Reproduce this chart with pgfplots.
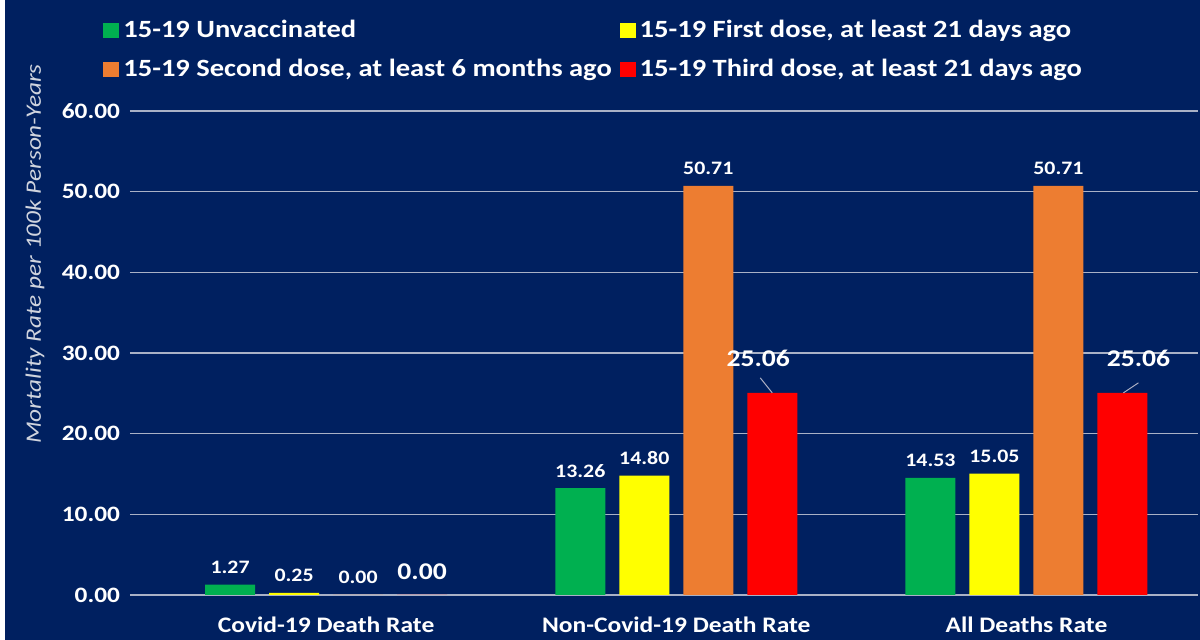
\documentclass[border=0pt]{standalone}
\usepackage{pgfplots}
\pgfplotsset{compat=1.18}
\usepackage{fontspec}
\setmainfont{Carlito}[FakeStretch=1.15]
\definecolor{bg}{HTML}{002060}
\definecolor{cgreen}{HTML}{00B050}
\definecolor{cyellow}{HTML}{FFFF00}
\definecolor{corange}{HTML}{ED7D31}
\definecolor{cred}{HTML}{FF0000}
\definecolor{gridc}{HTML}{A9B1C6}
\definecolor{ylab}{HTML}{D0D4DE}
\begin{document}
\begin{tikzpicture}
\useasboundingbox (0,0) rectangle (600pt,320pt);
\fill[bg] (0,0) rectangle (600pt,320pt);
\fill[white] (0,0) rectangle (2.5pt,320pt);
\begin{axis}[
  at={(65pt,22.5pt)}, anchor=south west,
  scale only axis, width=534pt, height=242pt,
  xmin=-0.56, xmax=2.49, ymin=0, ymax=60,
  ybar=7pt, bar width=25pt,
  clip=false,
  xtick={0,1,2},
  xticklabels={Covid-19 Death Rate, Non-Covid-19 Death Rate, All Deaths Rate},
  ytick={0,10,...,60},
  /pgf/number format/assume math mode=true,
  yticklabel style={/pgf/number format/fixed, /pgf/number format/fixed zerofill, /pgf/number format/precision=2,
     font=\bfseries\fontsize{11}{13}\selectfont, text=white, xshift=-1.5pt},
  xticklabel style={font=\bfseries\fontsize{11.1}{13}\selectfont, text=white, anchor=center, yshift=-15pt},
  ylabel={Mortality Rate per 100k Person-Years},
  ylabel style={at={(axis description cs:-0.089,0.7045)}, anchor=center,
     font=\itshape\fontsize{11}{13}\selectfont, text=ylab},
  axis line style={draw=none},
  tick style={draw=none},
  major tick length=0pt,
  ymajorgrids,
  major grid style={draw=gridc, line width=0.8pt},
  legend columns=2,
  legend cell align=left,
  legend image code/.code={\fill[#1] (0pt,-3.75pt) rectangle (8pt,3.75pt);},
  legend style={at={(axis description cs:-0.0253,1.1973)}, anchor=north west,
     draw=none, fill=none, text=white, inner sep=0pt,
     font=\bfseries\fontsize{12.4}{14}\selectfont,
     /tikz/every even column/.append style={column sep=2pt},
     row sep=5.5pt},
  nodes near coords={\pgfmathprintnumber[fixed,fixed zerofill,precision=2]{\pgfplotspointmeta}},
  every node near coord/.append style={text=white, anchor=base, yshift=5.5pt,
     font=\bfseries\fontsize{9.5}{11}\selectfont},
]
\addplot[fill=cgreen, draw=none] coordinates {(0,1.27) (1,13.26) (2,14.53)};
\addlegendentry{15-19 Unvaccinated}
\addplot[fill=cyellow, draw=none] coordinates {(0,0.25) (1,14.80) (2,15.05)};
\addlegendentry{15-19 First dose, at least 21 days ago}
\addplot[fill=corange, draw=none] coordinates {(0,0.00) (1,50.71) (2,50.71)};
\addlegendentry{15-19 Second dose, at least 6 months ago}
\addplot[fill=cred, draw=none,
  visualization depends on={value \thisrow{dx} \as \ldx},
  visualization depends on={value \thisrow{dy} \as \ldy},
  visualization depends on={value \thisrow{ax} \as \lax},
  visualization depends on={value \thisrow{ay} \as \lay},
  visualization depends on={value \thisrow{bx} \as \lbx},
  visualization depends on={value \thisrow{by} \as \lby},
  every node near coord/.append style={font=\bfseries\fontsize{12}{14}\selectfont,
     xshift=\ldx pt, yshift=\ldy pt-5.5pt,
     append after command={([shift={(\lax pt,\lay pt)}]\tikzlastnode.base) edge[draw=gridc, line width=0.5pt] ([shift={(\lbx pt,\lby pt)}]\tikzlastnode.base)}},
] table {
x y dx dy ax ay bx by
0 0.00 0 7.5 0 0 0 0
1 25.06 -7 13 7 -13 1 -5.5
2 25.06 8 13 -7.5 -13 0 -8
};
\addlegendentry{15-19 Third dose, at least 21 days ago}
\end{axis}
\end{tikzpicture}
\end{document}
